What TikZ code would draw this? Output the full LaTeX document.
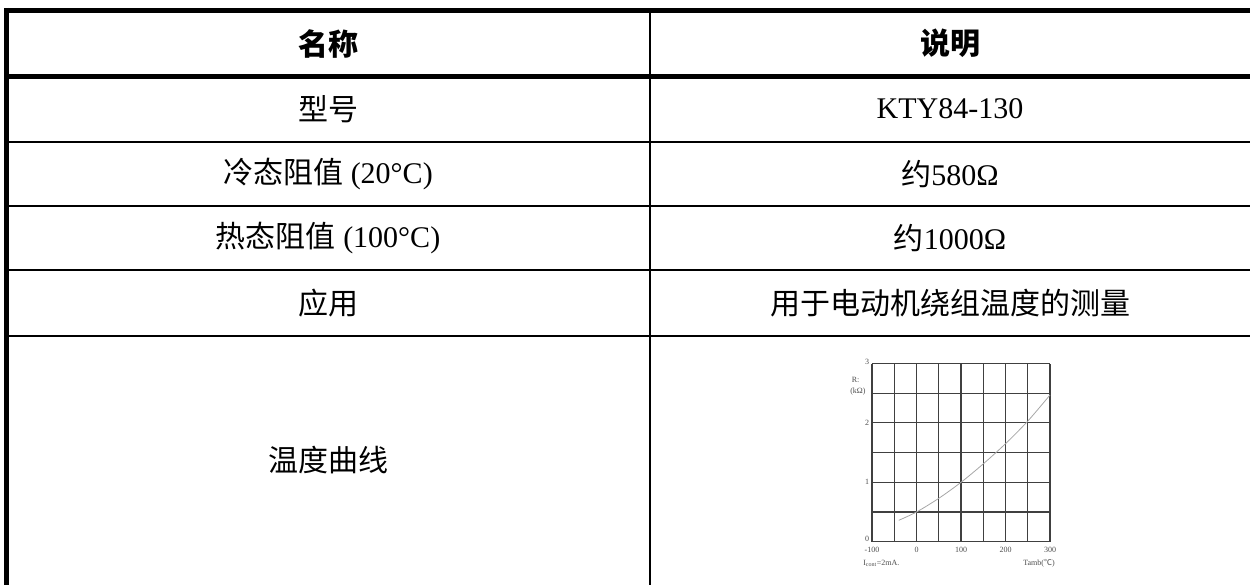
\documentclass[tikz,border=0pt]{standalone}
\usepackage{fontspec}
\setmainfont{Liberation Serif}
\newfontfamily\cjk{Noto Sans CJK SC}
\tikzset{
  thickrule/.style={line width=5pt, line cap=butt},
  thinrule/.style={line width=2pt, line cap=butt},
  cell/.style={font=\fontsize{30}{34}\selectfont, inner sep=0pt, anchor=center},
  head/.style={cell, font=\fontsize{30}{34}\selectfont\cjk\bfseries},
  vgrid/.style={line width=1.3pt, draw=black!75},
  hgrid/.style={line width=1pt, draw=black!75},
  curve/.style={line width=0.8pt, draw=black!35},
  tick/.style={font=\fontsize{8}{9}\selectfont, text=black!70, inner sep=0pt},
}
\begin{document}
\begin{tikzpicture}[x=1pt, y=-1pt]
\useasboundingbox (0,0) rectangle (1250,585);
% rules
\draw[thickrule] (4,10.5) -- (1250,10.5);
\draw[thickrule] (4,76.5) -- (1250,76.5);
\draw[thickrule] (6.5,8) -- (6.5,585);
\draw[thinrule] (650,10.5) -- (650,585);
\foreach \yy in {142,206,270,336} \draw[thinrule] (9,\yy) -- (1250,\yy);
% header
\node[head] (h1) at (328,43.5) {名称};
\node[head] (h2) at (950,43.5) {说明};
% rows
\node[cell] (a1) at (328,109) {\cjk 型号};
\node[cell] (b1) at (950,109) {KTY84-130};
\node[cell] (a2) at (328,174) {{\cjk 冷态阻值} (20°C)};
\node[cell] (b2) at (950,174) {{\cjk 约}580Ω};
\node[cell] (a3) at (328,238) {{\cjk 热态阻值} (100°C)};
\node[cell] (b3) at (950,238) {{\cjk 约}1000Ω};
\node[cell] (a4) at (328,303) {\cjk 应用};
\node[cell] (b4) at (950,303) {\cjk 用于电动机绕组温度的测量};
\node[cell] (a5) at (328,460) {\cjk 温度曲线};
% graph
\begin{scope}[shift={(872,541.7)}, x=0.445pt, y=59.4pt]
  \foreach \gx in {0,50,...,400} \draw[vgrid] (\gx,0) -- (\gx,3);
  \foreach \gy in {0,0.5,...,3} \draw[hgrid] (0,\gy) -- (400,\gy);
  \draw[hgrid, line width=2pt] (0,0.5) -- (400,0.5);
  \draw[curve] plot[smooth] coordinates {(60,0.36) (100,0.5) (150,0.73) (200,1.0) (250,1.31) (300,1.65) (350,2.03) (400,2.47)};
  \node[tick, anchor=east] (t3) at (-6,3.03) {3};
  \node[tick, anchor=east] (t2) at (-6,2) {2};
  \node[tick, anchor=east] (t1) at (-6,1) {1};
  \node[tick, anchor=east] (t0) at (-6,0.05) {0};
  \node[tick, anchor=east] (rl) at (-28,2.72) {R:};
  \node[tick, anchor=east] (ru) at (-14,2.53) {(kΩ)};
  \node[tick] (x1) at (0,-0.13) {-100};
  \node[tick] (x2) at (100,-0.13) {0};
  \node[tick] (x3) at (200,-0.13) {100};
  \node[tick] (x4) at (300,-0.13) {200};
  \node[tick] (x5) at (400,-0.13) {300};
  \node[tick, anchor=west] (ic) at (-20,-0.36) {I\textsubscript{cont}=2mA.};
  \node[tick, anchor=east] (ta) at (411,-0.36) {Tamb({\cjk ℃})};
\end{scope}
\end{tikzpicture}
\end{document}
